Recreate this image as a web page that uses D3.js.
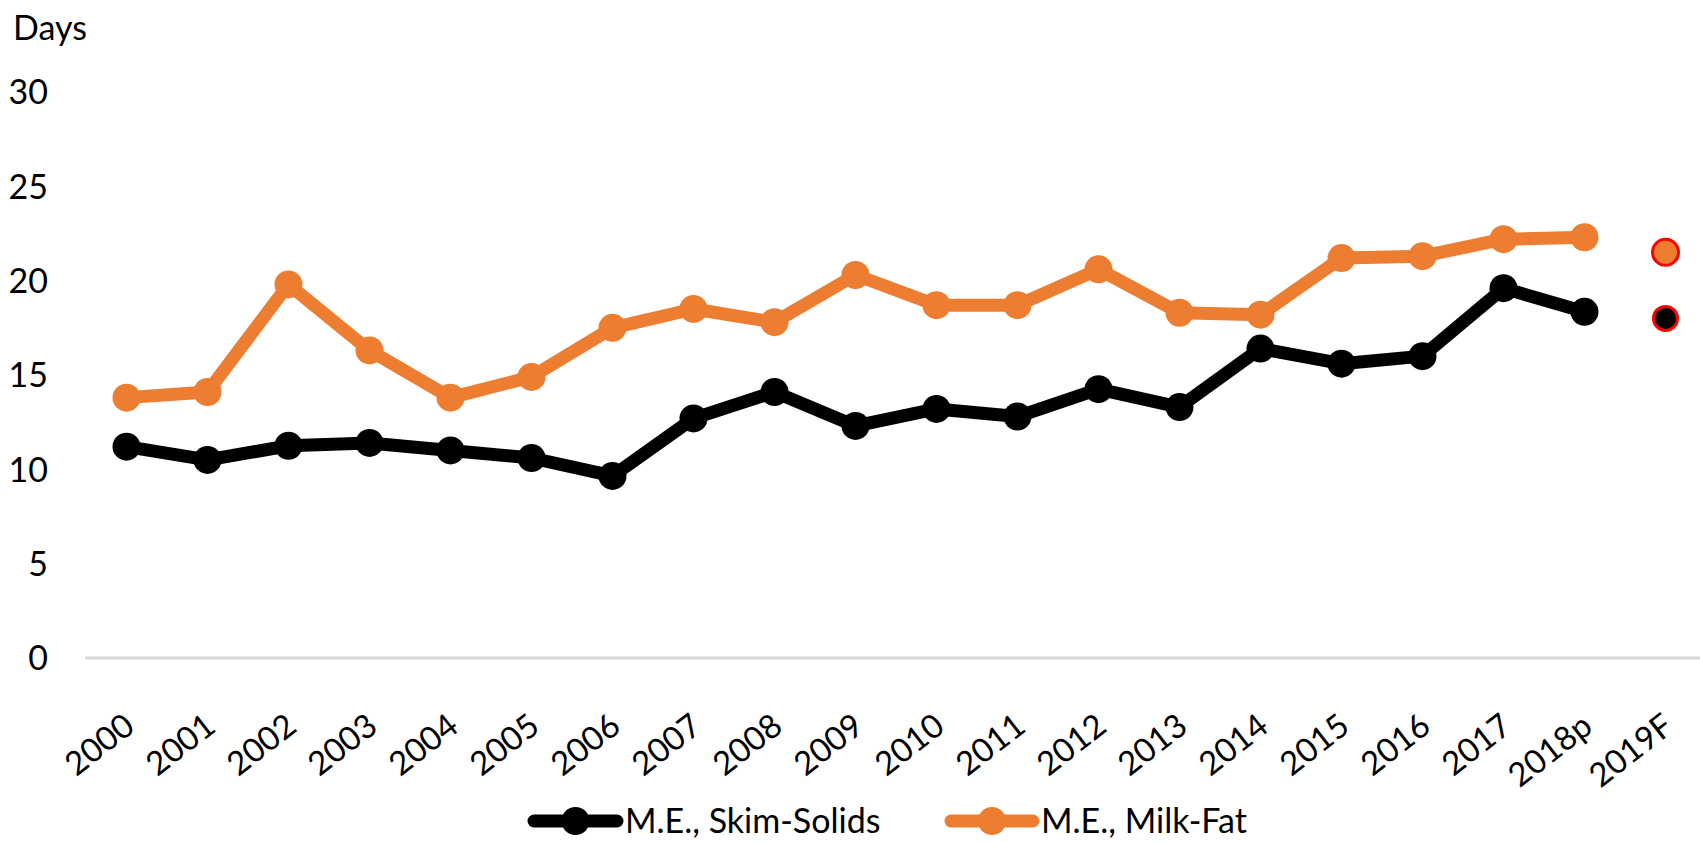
<!DOCTYPE html>
<html>
<head>
<meta charset="utf-8">
<script src="https://cdn.jsdelivr.net/npm/d3@7"></script>
<style>
  html, body { margin: 0; padding: 0; background: #fff; }
  svg { display: block; }
  text { font-family: Lato, "Noto Sans", sans-serif; fill: #000; }
</style>
</head>
<body>
<svg id="chart" width="1700" height="843"></svg>
<script>
const categories = ["2000","2001","2002","2003","2004","2005","2006","2007","2008","2009",
                    "2010","2011","2012","2013","2014","2015","2016","2017","2018p","2019F"];
const skimSolids = [11.2, 10.5, 11.25, 11.4, 11.0, 10.6, 9.65, 12.7, 14.1, 12.3,
                    13.2, 12.8, 14.25, 13.3, 16.4, 15.6, 16.0, 19.6, 18.35, 18.0];
const milkFat    = [13.8, 14.1, 19.8, 16.3, 13.8, 14.9, 17.5, 18.5, 17.8, 20.3,
                    18.7, 18.7, 20.6, 18.3, 18.2, 21.2, 21.3, 22.2, 22.3, 21.5];
const yTicks = [0, 5, 10, 15, 20, 25, 30];
const seriesNames = ["M.E., Skim-Solids", "M.E., Milk-Fat"];
const forecastLabel = "2019F";
const yTitle = "Days";

const colors = ["#000000", "#ED7D31"];
const svg = d3.select("#chart");

const x = d3.scaleBand().domain(categories).range([86, 1706]);
const cx = c => x(c) + x.bandwidth() / 2;
const y = d3.scaleLinear().domain([0, 30]).range([658, 92]);

// baseline
svg.append("line")
  .attr("x1", 85).attr("x2", 1700)
  .attr("y1", y(0)).attr("y2", y(0))
  .attr("stroke", "#d9d9d9").attr("stroke-width", 3);

// y axis labels
const yAxis = d3.axisLeft(y).tickValues(yTicks).tickSize(0).tickPadding(0);
const gy = svg.append("g").attr("transform", "translate(48,0)").call(yAxis);
gy.select(".domain").remove();
gy.selectAll("text").style("font-size", "34px").style("font-family", "Lato, sans-serif")
  .attr("fill", "#000").attr("dy", "0.35em");

svg.append("text").attr("x", 13).attr("y", 40).style("font-size", "34px").text(yTitle);

// x axis labels
const xAxis = d3.axisBottom(x).tickSize(0).tickPadding(0);
const gx = svg.append("g").attr("transform", "translate(0," + y(0) + ")").call(xAxis);
gx.select(".domain").remove();
gx.selectAll("text")
  .style("font-size", "33px").style("font-family", "Lato, sans-serif")
  .attr("fill", "#000")
  .attr("text-anchor", "end")
  .attr("dy", null)
  .attr("y", 0)
  .attr("transform", "translate(10,72) rotate(-38)");

// series
const allSeries = [skimSolids, milkFat];
const lineGen = d3.line().x((d, i) => cx(categories[i])).y(d => y(d));

allSeries.forEach((vals, si) => {
  const hist = vals.slice(0, categories.length - 1);
  svg.append("path")
    .attr("d", lineGen(hist))
    .attr("fill", "none")
    .attr("stroke", colors[si])
    .attr("stroke-width", 13)
    .attr("stroke-linejoin", "round");
  svg.selectAll(null).data(hist).enter().append("circle")
    .attr("cx", (d, i) => cx(categories[i]))
    .attr("cy", d => y(d))
    .attr("r", 14)
    .attr("fill", colors[si]);
  // forecast point
  const fi = categories.indexOf(forecastLabel);
  svg.append("circle")
    .attr("cx", cx(categories[fi]))
    .attr("cy", y(vals[fi]))
    .attr("r", si === 0 ? 12 : 13)
    .attr("fill", colors[si])
    .attr("stroke", "#ff0000")
    .attr("stroke-width", 3);
});

// legend
const legendItems = [
  { name: seriesNames[0], color: colors[0], x0: 528, x1: 623 },
  { name: seriesNames[1], color: colors[1], x0: 945, x1: 1039 }
];
const ly = 821;
legendItems.forEach(it => {
  svg.append("line").attr("x1", it.x0 + 6).attr("x2", it.x1 - 6)
    .attr("y1", ly).attr("y2", ly)
    .attr("stroke", it.color).attr("stroke-width", 13).attr("stroke-linecap", "round");
  svg.append("circle").attr("cx", (it.x0 + it.x1) / 2).attr("cy", ly).attr("r", 14).attr("fill", it.color);
  svg.append("text").attr("x", it.x1 + 2).attr("y", ly).attr("dy", "0.35em")
    .style("font-size", "34px").text(it.name);
});
</script>
</body>
</html>
